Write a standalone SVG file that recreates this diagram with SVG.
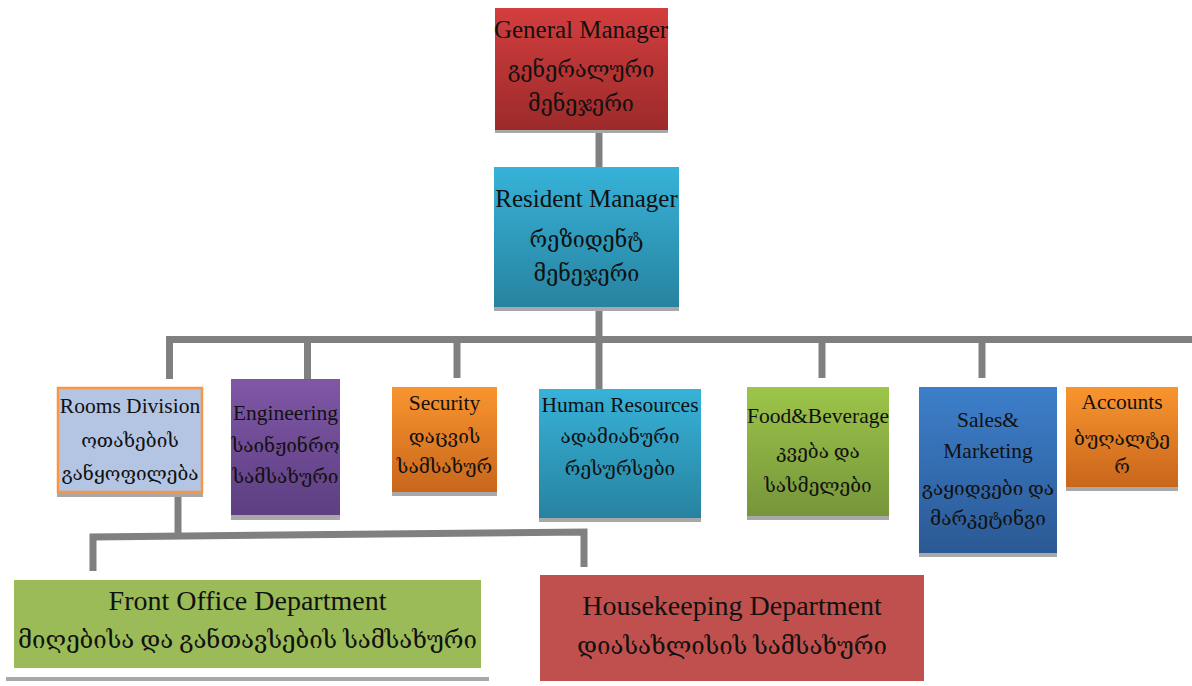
<svg xmlns="http://www.w3.org/2000/svg" width="1192" height="686" viewBox="0 0 1192 686">
<defs>
<linearGradient id="gRed" x1="0" y1="0" x2="0" y2="1"><stop offset="0" stop-color="#d33e3e"/><stop offset="1" stop-color="#9c2a2a"/></linearGradient>
<linearGradient id="gCyan" x1="0" y1="0" x2="0" y2="1"><stop offset="0" stop-color="#37b2d8"/><stop offset="1" stop-color="#2783a0"/></linearGradient>
<linearGradient id="gPurple" x1="0" y1="0" x2="0" y2="1"><stop offset="0" stop-color="#8057a6"/><stop offset="1" stop-color="#5d3f82"/></linearGradient>
<linearGradient id="gOrange" x1="0" y1="0" x2="0" y2="1"><stop offset="0" stop-color="#f9952f"/><stop offset="1" stop-color="#c8661c"/></linearGradient>
<linearGradient id="gGreen" x1="0" y1="0" x2="0" y2="1"><stop offset="0" stop-color="#9dc54a"/><stop offset="1" stop-color="#76953a"/></linearGradient>
<linearGradient id="gBlue" x1="0" y1="0" x2="0" y2="1"><stop offset="0" stop-color="#3d7fcb"/><stop offset="1" stop-color="#2b5994"/></linearGradient>
</defs>
<style>
text{font-family:"Liberation Serif","DejaVu Serif","DejaVu Sans",serif;fill:#111;text-anchor:middle}
.t1{font-size:25px}
.g1{font-size:21.5px}
.t2{font-size:21.5px}
.g2{font-size:19px}
.t3{font-size:28px}
.g3{font-size:24px}
.sh{fill:#a8a8a8}
.conn{fill:none;stroke:#808080;stroke-width:7;stroke-linejoin:miter}
</style>
<g id="connectors">
<path class="conn" d="M599 130V167"/>
<path class="conn" d="M599 307V389"/>
<path class="conn" d="M169.5 379V339.5H1192"/>
<path class="conn" d="M307.5 339.5V379"/>
<path class="conn" d="M457 339.5V378"/>
<path class="conn" d="M822 339.5V378"/>
<path class="conn" d="M982 339.5V378"/>
<path class="conn" d="M178 493V535"/>
<path class="conn" d="M93 571V537L584 532V567"/>
</g>
<g id="general-manager">
<rect class="sh" x="495" y="128" width="173" height="5"/>
<rect x="495" y="8" width="173" height="122" fill="url(#gRed)"/>
<text class="t1" x="581" y="38">General Manager</text>
<text class="g1" x="581" y="77">გენერალური</text>
<text class="g1" x="581" y="111">მენეჯერი</text>
</g>
<g id="resident-manager">
<rect class="sh" x="494" y="305" width="185" height="6"/>
<rect x="494" y="167" width="185" height="140" fill="url(#gCyan)"/>
<text class="t1" x="586.5" y="207">Resident Manager</text>
<text class="g1" x="586.5" y="247">რეზიდენტ</text>
<text class="g1" x="586.5" y="281">მენეჯერი</text>
</g>
<g id="rooms-division">
<rect class="sh" x="57" y="492" width="146" height="5"/>
<rect x="58" y="388" width="144" height="104" fill="#b4c5e4" stroke="#f79646" stroke-width="2.5"/>
<text class="t2" x="130" y="413">Rooms Division</text>
<text class="g2" x="130" y="447">ოთახების</text>
<text class="g2" x="130" y="480">განყოფილება</text>
</g>
<g id="engineering">
<rect class="sh" x="231" y="514" width="109" height="6"/>
<rect x="231" y="379" width="109" height="136" fill="url(#gPurple)"/>
<text class="t2" x="285.5" y="420">Engineering</text>
<text class="g2" x="285.5" y="452">საინჟინრო</text>
<text class="g2" x="285.5" y="483">სამსახური</text>
</g>
<g id="security">
<rect class="sh" x="392" y="491" width="105" height="5"/>
<rect x="392" y="387" width="105" height="105" fill="url(#gOrange)"/>
<text class="t2" x="444.5" y="410">Security</text>
<text class="g2" x="444.5" y="443">დაცვის</text>
<text class="g2" x="444.5" y="473">სამსახურ</text>
</g>
<g id="human-resources">
<rect class="sh" x="539" y="517" width="162" height="5"/>
<rect x="539" y="389" width="162" height="129" fill="url(#gCyan)"/>
<text class="t2" x="620" y="412">Human Resources</text>
<text class="g2" x="620" y="443">ადამიანური</text>
<text class="g2" x="620" y="475">რესურსები</text>
</g>
<g id="food-beverage">
<rect class="sh" x="747" y="515" width="142" height="5"/>
<rect x="747" y="387" width="142" height="129" fill="url(#gGreen)"/>
<text class="t2" x="818" y="423">Food&amp;Beverage</text>
<text class="g2" x="818" y="458">კვება და</text>
<text class="g2" x="818" y="492">სასმელები</text>
</g>
<g id="sales-marketing">
<rect class="sh" x="919" y="552" width="138" height="5"/>
<rect x="919" y="387" width="138" height="166" fill="url(#gBlue)"/>
<text class="t2" x="988" y="427">Sales&amp;</text>
<text class="t2" x="988" y="458">Marketing</text>
<text class="g2" x="988" y="495">გაყიდვები და</text>
<text class="g2" x="988" y="525">მარკეტინგი</text>
</g>
<g id="accounts">
<rect class="sh" x="1066" y="486" width="112" height="5"/>
<rect x="1066" y="387" width="112" height="100" fill="url(#gOrange)"/>
<text class="t2" x="1122" y="409">Accounts</text>
<text class="g2" x="1122" y="445">ბუღალტე</text>
<text class="g2" x="1122" y="473">რ</text>
</g>
<g id="front-office">
<rect x="6" y="677" width="483" height="4" fill="#a8a8a8"/>
<rect x="14" y="580" width="467" height="88" fill="#9bbb59"/>
<text class="t3" x="247.5" y="610">Front Office Department</text>
<text class="g3" x="247.5" y="648">მიღებისა და განთავსების სამსახური</text>
</g>
<g id="housekeeping">
<rect x="540" y="575" width="384" height="106" fill="#c0504d"/>
<text class="t3" x="732" y="615">Housekeeping Department</text>
<text class="g3" x="732" y="654">დიასახლისის სამსახური</text>
</g>
</svg>
